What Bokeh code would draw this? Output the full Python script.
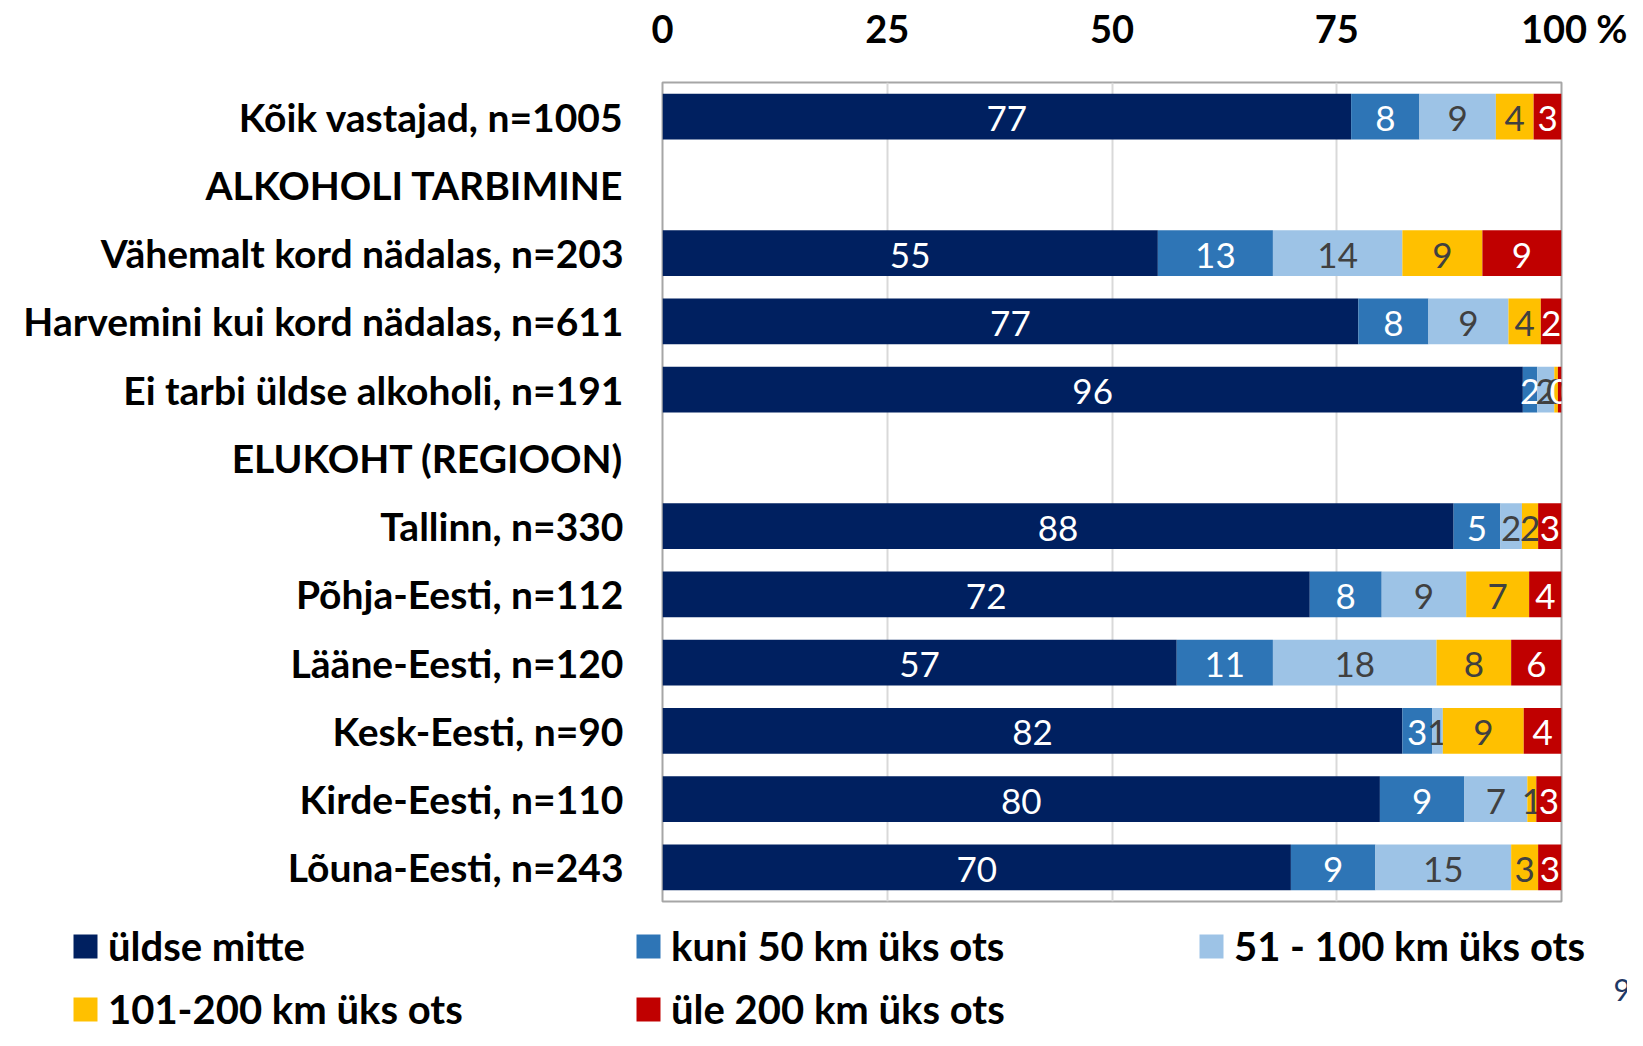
import numpy as np
from bokeh.plotting import figure
from bokeh.models import ColumnDataSource, FactorRange, Range1d, FixedTicker, Label
from bokeh.embed import file_html
from bokeh.resources import INLINE
from bokeh.core.properties import value

categories = [
    "Kõik vastajad, n=1005",
    "ALKOHOLI TARBIMINE",
    "Vähemalt kord nädalas, n=203",
    "Harvemini kui kord nädalas, n=611",
    "Ei tarbi üldse alkoholi, n=191",
    "ELUKOHT (REGIOON)",
    "Tallinn, n=330",
    "Põhja-Eesti, n=112",
    "Lääne-Eesti, n=120",
    "Kesk-Eesti, n=90",
    "Kirde-Eesti, n=110",
    "Lõuna-Eesti, n=243",
]
bar_rows = [c for c in categories if "n=" in c]

series_names = ["üldse mitte", "kuni 50 km üks ots", "51 - 100 km üks ots",
                "101-200 km üks ots", "üle 200 km üks ots"]
uldse_mitte = [76.6, 55.1, 77.4, 95.7, 88.0, 72.0, 57.2, 82.3, 79.8, 69.9]
kuni_50 = [7.6, 12.8, 7.8, 1.6, 5.2, 8.0, 10.7, 3.3, 9.4, 9.4]
km_51_100 = [8.5, 14.4, 8.9, 1.9, 2.4, 9.4, 18.2, 1.2, 7.0, 15.1]
km_101_200 = [4.2, 8.9, 3.6, 0.4, 1.8, 7.0, 8.3, 9.0, 1.0, 3.0]
ule_200 = [3.1, 8.8, 2.3, 0.4, 2.6, 3.6, 5.6, 4.2, 2.8, 2.6]
series_values = [uldse_mitte, kuni_50, km_51_100, km_101_200, ule_200]

colors = ["#002060", "#2E75B6", "#9DC3E6", "#FFC000", "#C00000"]
label_colors = ["#FFFFFF", "#FFFFFF", "#404040", "#404040", "#FFFFFF"]
ticks = [0, 25, 50, 75, 100]
tick_labels = {100: "\u2800" * 3 + "100\u00a0%"}
page_number = "9"

FONT = "Lato"

p = figure(width=1627, height=904,
           y_range=FactorRange(*reversed(categories)),
           x_range=Range1d(0, 100),
           x_axis_location="above",
           output_backend="svg", toolbar_location=None,
           min_border_left=662, min_border_right=66,
           min_border_top=82, min_border_bottom=3)

p.background_fill_color = "white"
p.border_fill_color = "white"
p.outline_line_color = "#A6A6A6"
p.outline_line_width = 2

p.xaxis.ticker = FixedTicker(ticks=ticks)
p.xaxis.major_label_overrides = tick_labels
p.xaxis.major_label_text_font = FONT
p.xaxis.major_label_text_font_style = "bold"
p.xaxis.major_label_text_font_size = "38px"
p.xaxis.major_label_text_color = "black"
p.xaxis.major_label_standoff = 26
p.xaxis.axis_line_color = None
p.xaxis.major_tick_line_color = None
p.xaxis.minor_tick_line_color = None

p.yaxis.major_label_text_font = FONT
p.yaxis.major_label_text_font_style = "bold"
p.yaxis.major_label_text_font_size = "39px"
p.yaxis.major_label_text_color = "black"
p.yaxis.major_label_standoff = 33
p.yaxis.axis_line_color = None
p.yaxis.major_tick_line_color = None
p.yaxis.minor_tick_line_color = None

p.xgrid.ticker = FixedTicker(ticks=[25, 50, 75])
p.xgrid.grid_line_color = "#D9D9D9"
p.xgrid.grid_line_width = 2
p.ygrid.grid_line_color = None

# legend strip below the chart: its own figure whose frame spans the full width
lf = figure(width=1627, height=126,
            y_range=FactorRange(*reversed(categories)),
            x_range=Range1d(0, 100),
            x_axis_location=None, y_axis_location=None,
            output_backend="svg", toolbar_location=None,
            min_border=0, min_border_left=0, min_border_right=0,
            min_border_top=0, min_border_bottom=0)
lf.outline_line_color = None
lf.grid.grid_line_color = None
lf.background_fill_color = "white"
lf.border_fill_color = "white"

left = np.zeros(len(bar_rows))
for i, vals in enumerate(series_values):
    vals = np.array(vals)
    right = left + vals
    src = ColumnDataSource(dict(
        y=bar_rows, left=left.copy(), right=right.copy(),
        xc=(left + right) / 2.0,
        lab=[str(int(v + 0.5)) for v in vals],
    ))
    p.hbar(y="y", left="left", right="right", height=0.67, source=src,
           fill_color=colors[i], line_color=None)
    p.text(x="xc", y="y", text="lab", source=src,
           text_font=value(FONT), text_font_size="35px",
           text_color=label_colors[i], text_align="center",
           text_baseline="middle", y_offset=2)
    # hidden copy of the series in the legend strip -> legend entry
    r = lf.hbar(y="y", left="left", right="right", height=0.67, source=src,
                fill_color=colors[i], line_color=None, legend_label=series_names[i])
    r.visible = False
    left = right

leg = lf.legend[0]
leg.location = (70, -3)
leg.orientation = "horizontal"
leg.ncols = 3
leg.label_text_font = FONT
leg.label_text_font_style = "bold"
leg.label_text_font_size = "40px"
leg.label_text_color = "black"
leg.glyph_width = 30
leg.glyph_height = 30
leg.label_standoff = 8
leg.label_width = 510
leg.label_height = 34
leg.spacing = 15
leg.padding = 0
leg.margin = 0
leg.border_line_color = None
leg.background_fill_alpha = 0
leg.inactive_fill_alpha = 0
leg.click_policy = "none"

pn = Label(x=1613, y=41, x_units="screen", y_units="screen",
           text=page_number, text_align="left", text_baseline="middle",
           text_font=FONT, text_font_size="30px", text_color="#1F3864")
lf.add_layout(pn)

open("out.html", "w").write(file_html([p, lf], INLINE))
